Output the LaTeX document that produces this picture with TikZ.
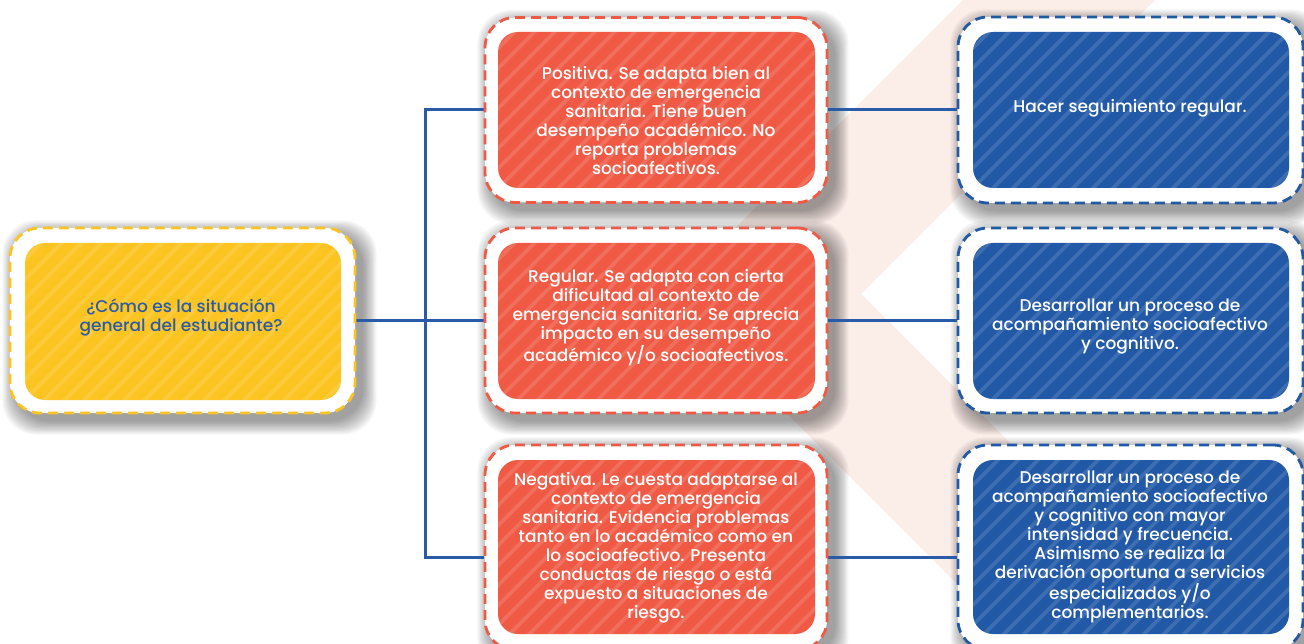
\documentclass[tikz,border=0pt]{standalone}
\usepackage{fontspec}
\setmainfont{Poppins Medium}
\usetikzlibrary{calc}
\definecolor{cred}{HTML}{F05A45}
\definecolor{cyel}{HTML}{FCC421}
\definecolor{cblue}{HTML}{2259A7}
\definecolor{cline}{HTML}{2A5BA8}
\definecolor{cpink}{HTML}{FBEDE8}
\definecolor{cytext}{HTML}{2B5CA8}
\pgfdeclarelayer{back}\pgfdeclarelayer{shade}\pgfdeclarelayer{links}
\pgfsetlayers{back,shade,links,main}
\tikzset{
  outerbox/.style={draw=#1, fill=white, dash pattern=on 10pt off 6pt, line width=2.8pt,
    rounded corners=30pt, inner sep=0pt},
  innerbox/.style={fill=#1, rounded corners=20pt, inner sep=0pt,
    path picture={\foreach \k in {-18,...,18}{
      \draw[white,opacity=0.13,line width=3.6pt]
        ($(path picture bounding box.center)+(\k*20pt-220pt,-220pt)$) -- ++(440pt,440pt);}}},
  txt/.style={align=center, font=\fontsize{17}{19}\selectfont, text=white, inner sep=0pt},
  link/.style={draw=cline, line width=3pt},
}
\newcommand{\shadowof}[1]{%
  \begin{pgfonlayer}{shade}
  \foreach \i in {0,...,11}{
    \fill[black,opacity=0.035,rounded corners=34pt]
      ($(#1.north west)+(7pt-\i*1.2pt,-7pt+\i*1.2pt)$) rectangle ($(#1.south east)+(7pt+\i*1.2pt,-7pt-\i*1.2pt)$);}
  \end{pgfonlayer}}
\begin{document}
\begin{tikzpicture}[x=1pt,y=-1pt]
\useasboundingbox (0,0) rectangle (1304,644);
\begin{pgfonlayer}{back}
  \fill[white] (0,0) rectangle (1304,644);
  \fill[cpink] (963,0) -- (1155,0) -- (861,294) -- (1211,644) -- (1017,644) -- (668,295) -- cycle;
\end{pgfonlayer}

% question
\node[outerbox=cyel, minimum width=345pt, minimum height=185pt] (yo) at (182.5,320.5) {};
\shadowof{yo}
\node[innerbox=cyel, minimum width=316pt, minimum height=157pt] (yi) at (183,321.5) {};
\node[txt, text=cytext] (yt) at (181,317) {¿Cómo es la situación\\general del estudiante?};

% situations
\node[outerbox=cred, minimum width=342pt, minimum height=185pt] (r1o) at (656,110) {};
\shadowof{r1o}
\node[innerbox=cred, minimum width=317pt, minimum height=156pt] (r1i) at (656.5,110) {};
\node[txt] (r1t) at (656,120.5) {Positiva. Se adapta bien al\\contexto de emergencia\\sanitaria. Tiene buen\\desempeño académico. No\\reporta problemas\\socioafectivos.};

\node[outerbox=cred, minimum width=342pt, minimum height=185pt] (r2o) at (656,320.5) {};
\shadowof{r2o}
\node[innerbox=cred, minimum width=317pt, minimum height=156pt] (r2i) at (656.5,321) {};
\node[txt] (r2t) at (656,317.5) {Regular. Se adapta con cierta\\dificultad al contexto de\\emergencia sanitaria. Se aprecia\\impacto en su desempeño\\académico y/o socioafectivos.};

\node[outerbox=cred, minimum width=342pt, minimum height=205pt] (r3o) at (656,547.5) {};
\shadowof{r3o}
\node[innerbox=cred, minimum width=317pt, minimum height=174pt] (r3i) at (656.5,547) {};
\node[txt] (r3t) at (656,547.5) {Negativa. Le cuesta adaptarse al\\contexto de emergencia\\sanitaria. Evidencia problemas\\tanto en lo académico como en\\lo socioafectivo. Presenta\\conductas de riesgo o está\\expuesto a situaciones de\\riesgo.};

% actions
\node[outerbox=cblue, minimum width=345pt, minimum height=186pt] (b1o) at (1130.5,110) {};
\shadowof{b1o}
\node[innerbox=cblue, minimum width=316pt, minimum height=156pt] (b1i) at (1131,110) {};
\node[txt] (b1t) at (1130,108) {Hacer seguimiento regular.};

\node[outerbox=cblue, minimum width=345pt, minimum height=185pt] (b2o) at (1130.5,320.5) {};
\shadowof{b2o}
\node[innerbox=cblue, minimum width=316pt, minimum height=156pt] (b2i) at (1131,321) {};
\node[txt] (b2t) at (1130,327) {Desarrollar un proceso de\\acompañamiento socioafectivo\\y cognitivo.};

\node[outerbox=cblue, minimum width=345pt, minimum height=205pt] (b3o) at (1130.5,547.5) {};
\shadowof{b3o}
\node[innerbox=cblue, minimum width=316pt, minimum height=174pt] (b3i) at (1131,547) {};
\node[txt] (b3t) at (1130,547) {Desarrollar un proceso de\\acompañamiento socioafectivo\\y cognitivo con mayor\\intensidad y frecuencia.\\Asimismo se realiza la\\derivación oportuna a servicios\\especializados y/o\\complementarios.};

% connectors
\coordinate (jn) at (425,320.5);
\begin{pgfonlayer}{links}
  \draw[link] (yo.east) -- (r2o.west);
  \draw[link] (r1o.west) -| (jn) |- ([yshift=-9.5pt]r3o.west);
  \draw[link] (r1o.east) -- (b1o.west);
  \draw[link] (r2o.east) -- (b2o.west);
  \draw[link] ([yshift=-9.5pt]r3o.east) -- ([yshift=-9.5pt]b3o.west);
\end{pgfonlayer}
\end{tikzpicture}
\end{document}
